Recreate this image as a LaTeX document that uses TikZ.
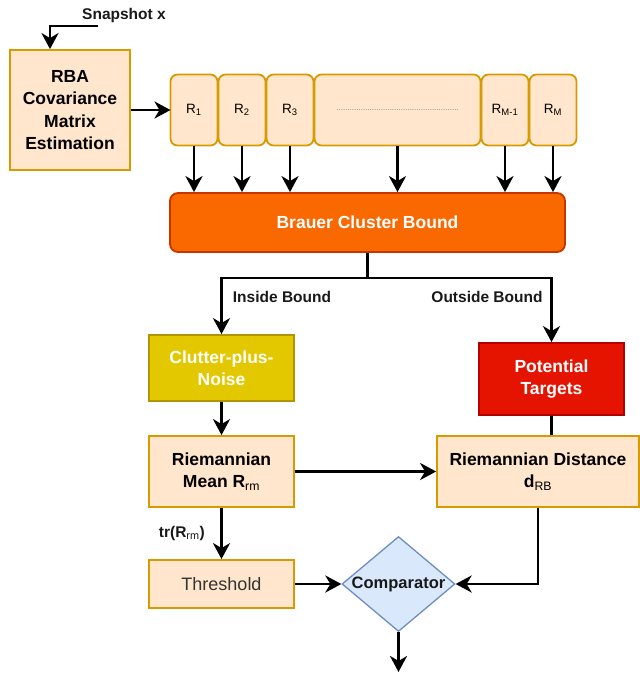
\documentclass[tikz,border=0pt]{standalone}
\usepackage{fontspec}
\setmainfont{Liberation Sans}
\usepackage{xcolor}
\usetikzlibrary{positioning, shapes.geometric, arrows.meta}

\definecolor{peach}{HTML}{FFE6CC}
\definecolor{peachline}{HTML}{D79B00}
\definecolor{brauerfill}{HTML}{FA6800}
\definecolor{brauerline}{HTML}{C73500}
\definecolor{clutterfill}{HTML}{E3C800}
\definecolor{clutterline}{HTML}{B09500}
\definecolor{targetfill}{HTML}{E51400}
\definecolor{targetline}{HTML}{B20000}
\definecolor{cmpfill}{HTML}{DAE8FC}
\definecolor{cmpline}{HTML}{6C8EBF}

\begin{document}
\begin{tikzpicture}[
    x=1pt, y=-1pt,
    >={Stealth[length=16pt,width=17pt,inset=5pt]},
    flow/.style={->, line width=2.8pt},
    wire/.style={line width=2.8pt},
    box/.style={draw=peachline, fill=peach, line width=1.8pt, align=center,
        inner sep=0pt, font=\fontsize{17.5}{22.5}\selectfont\bfseries},
    rcell/.style={box, rounded corners=7pt, minimum width=47pt, outer sep=0pt,
        minimum height=71pt, font=\fontsize{13.5}{15}\selectfont},
    lbl/.style={font=\fontsize{15.5}{18}\selectfont\bfseries, text=black!90},
    cmpbox/.style={diamond, draw=cmpline, fill=cmpfill, line width=1.3pt,
        inner sep=0pt, minimum width=113pt, minimum height=95pt}
]
\useasboundingbox (0,0) rectangle (640,673);

% Input and estimation
\node[lbl] (snaplbl) at (124,15) {Snapshot x};
\coordinate (snap) at (98,26);
\node[box, minimum width=120pt, minimum height=120pt] (rba) at (70,110)
    {RBA\\Covariance\\Matrix\\Estimation};

% Covariance cells
\node[rcell] (r1) at (194,110) {R\textsubscript{1}};
\node[rcell] (r2) [right=1pt of r1] {R\textsubscript{2}};
\node[rcell] (r3) [right=1pt of r2] {R\textsubscript{3}};
\node[rcell, minimum width=166pt] (dots) [right=1pt of r3]
    {\textcolor{gray}{\fontsize{8}{8}\selectfont.......................................................}};
\node[rcell] (rm1) [right=1pt of dots] {R\textsubscript{M-1}};
\node[rcell] (rm) [right=1pt of rm1] {R\textsubscript{M}};

% Bound
\node[box, draw=brauerline, fill=brauerfill, text=white, rounded corners=8pt,
    minimum width=395pt, minimum height=59pt] (brauer) at (367.5,222.5)
    {Brauer Cluster Bound};
\coordinate (split) at ([yshift=-25pt]brauer.south);

\node[box, draw=clutterline, fill=clutterfill, text=white,
    minimum width=145pt, minimum height=66pt] (clutter) at (221.5,368)
    {Clutter-plus-\\Noise};
\node[box, draw=targetline, fill=targetfill, text=white,
    minimum width=145pt, minimum height=72pt] (pot) at (551.5,379)
    {Potential\\Targets};

\node[lbl] (inlbl) at (282,297) {Inside Bound};
\node[lbl] (outlbl) at (487,297) {Outside Bound};

% Distances
\node[box, minimum width=145pt, minimum height=71pt] (mean) at (221.5,471.5)
    {Riemannian\\Mean R\textsubscript{\mdseries rm}};
\node[box, minimum width=202pt, minimum height=71pt] (dist) at (538,471.5)
    {Riemannian Distance\\d\textsubscript{\mdseries RB}};
\node[box, minimum width=145pt, minimum height=48pt,
    font=\fontsize{18}{22}\selectfont, text=black!80] (thr) at (221.5,584)
    {Threshold};
\node[cmpbox, label={[font=\fontsize{16.5}{18}\selectfont\bfseries, text=black!90]center:Comparator}]
    (cmp) at (398.5,584) {};
\coordinate (out) at (398.5,672);

% Connections
\draw[flow] (snap) -| ([xshift=-20pt]rba.north);
\draw[flow] (rba.east) -- (r1.west);
\foreach \c in {r1,r2,r3,dots,rm1,rm}
    \draw[flow] (\c.south) -- (\c.south |- brauer.north);
\draw[wire] (brauer.south) -- (split);
\draw[flow] (split) -| (clutter.north);
\draw[flow] (split) -| (pot.north);
\draw[flow] (clutter.south) -- (mean.north);
\draw[wire] (pot.south) -- (pot.south |- dist.north);
\draw[flow] (mean.east) -- (mean.east -| dist.west);
\draw[flow] (mean.south) -- node[lbl, left=12pt] {tr(R\textsubscript{\mdseries rm})} (thr.north);
\draw[flow] (thr.east) -- (cmp.west);
\draw[flow] (dist.south) |- (cmp.east);
\draw[flow] (cmp.south) -- (out);

\end{tikzpicture}
\end{document}
